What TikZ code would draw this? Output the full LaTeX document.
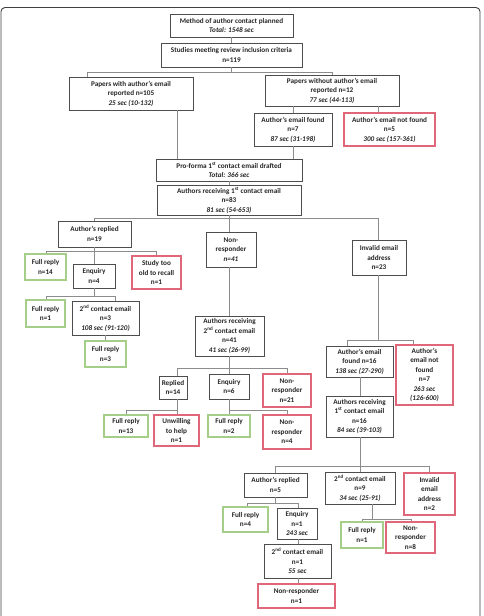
\documentclass[tikz,border=0pt]{standalone}
\usepackage{fontspec}
\setmainfont{Carlito}
\definecolor{boxc}{HTML}{4D4D4D}
\definecolor{connc}{HTML}{8C8C8C}
\definecolor{greenc}{HTML}{A5CF89}
\definecolor{redc}{HTML}{E0677A}
\definecolor{txtc}{HTML}{262626}
\definecolor{framec}{HTML}{404040}
\tikzset{
  bx/.style={draw=boxc, line width=0.8pt, fill=white, inner sep=0pt, align=center,
    text=txtc, font=\bfseries\fontsize{7.2}{9.5}\selectfont},
  gbx/.style={bx, draw=greenc, line width=1.1pt},
  rbx/.style={bx, draw=redc, line width=1.1pt},
  conn/.style={draw=connc, line width=0.7pt},
}
\begin{document}
\begin{tikzpicture}[x=1pt,y=-1pt]
\clip (0,0) rectangle (483,616);
\fill[white] (0,0) rectangle (483,616);
\draw[framec, line width=0.9pt, rounded corners=4pt] (1,640) -- (1,7.5) -- (480,7.5) -- (480,640);

% junction coordinates
\coordinate (j1L) at (87,72);   \coordinate (j1R) at (332,72);
\coordinate (j2L) at (94,218);  \coordinate (j2R) at (378,218);
\coordinate (j3L) at (46,251);  \coordinate (j3R) at (156,251);
\coordinate (j4L) at (46,296);  \coordinate (j4R) at (115,296);
\coordinate (j5L) at (177,368); \coordinate (j5R) at (287,368);
\coordinate (j6L) at (126,410); \coordinate (j6R) at (177,410);
\coordinate (j7L) at (229,410); \coordinate (j7R) at (287,410);
\coordinate (j8L) at (347,340); \coordinate (j8R) at (413,340);
\coordinate (j9L) at (275,466); \coordinate (j9R) at (429,466);
\coordinate (j10L) at (247,503); \coordinate (j10R) at (298,503);
\coordinate (j11L) at (362,519); \coordinate (j11R) at (411,519);
\coordinate (x177) at (177,0); \coordinate (x378) at (378,0);
\coordinate (x229) at (229,0); \coordinate (x360) at (360,0);
\coordinate (x372) at (372,0); \coordinate (x298) at (298,0);

% nodes
\node[bx, minimum width=123, minimum height=23] (method) at (231.5,25.5) {Method of author contact planned\\\textit{Total: 1548 sec}};
\node[bx, minimum width=141, minimum height=24] (studies) at (231.5,55) {Studies meeting review inclusion criteria\\n=119};
\node[bx, minimum width=124, minimum height=33] (pw) at (131,93.5) {Papers with author's email\\reported n=105\\\textit{25 sec (10-132)}};
\node[bx, minimum width=134, minimum height=31] (pwo) at (332,90.5) {Papers without author's email\\reported n=12\\\textit{77 sec (44-113)}};
\node[bx, minimum width=78, minimum height=33] (aef) at (293,129.5) {Author's email found\\n=7\\\textit{87 sec (31-198)}};
\node[rbx, minimum width=91, minimum height=33] (aenf) at (389.5,129.5) {Author's email not found\\n=5\\\textit{300 sec (157-361)}};
\node[bx, minimum width=146, minimum height=22] (proforma) at (229,170) {Pro-forma 1\textsuperscript{st} contact email drafted\\\textit{Total: 366 sec}};
\node[bx, minimum width=144, minimum height=30] (arc1) at (229,200) {Authors receiving 1\textsuperscript{st} contact email\\n=83\\\textit{81 sec (54-653)}};
\node[bx, minimum width=73, minimum height=26] (ar19) at (94.5,234) {Author's replied\\n=19};
\node[bx, minimum width=50, minimum height=35] (nr41) at (231,249.5) {Non-\\responder\\\textit{n=41}};
\node[bx, minimum width=54, minimum height=35] (inv23) at (379,257.5) {Invalid email\\address\\n=23};
\node[gbx, minimum width=41, minimum height=26] (fr14) at (45.5,267) {Full reply\\n=14};
\node[bx, minimum width=42, minimum height=24] (enq4) at (94,276) {Enquiry\\n=4};
\node[rbx, minimum width=49, minimum height=33] (old) at (156.5,272.5) {Study too\\old to recall\\n=1};
\node[gbx, minimum width=39, minimum height=27] (fr1a) at (45.5,313.5) {Full reply\\n=1};
\node[bx, minimum width=67, minimum height=34] (sce3) at (105.5,318) {2\textsuperscript{nd} contact email\\n=3\\\textit{108 sec (91-120)}};
\node[gbx, minimum width=41, minimum height=26] (fr3) at (105.5,354) {Full reply\\n=3};
\node[bx, minimum width=69, minimum height=40] (arc2) at (229.5,336) {Authors receiving\\2\textsuperscript{nd} contact email\\n=41\\\textit{41 sec (26-99)}};
\node[bx, minimum width=28, minimum height=23] (rep14) at (173,387.5) {Replied\\n=14};
\node[bx, minimum width=40, minimum height=25] (enq6) at (229,386.5) {Enquiry\\n=6};
\node[rbx, minimum width=48, minimum height=33] (nr21) at (287,390.5) {Non-\\responder\\n=21};
\node[gbx, minimum width=44, minimum height=22] (fr13) at (126,426) {Full reply\\n=13};
\node[rbx, minimum width=45, minimum height=31] (unw) at (176.5,430.5) {Unwilling\\to help\\n=1};
\node[gbx, minimum width=42, minimum height=22] (fr2) at (229,426) {Full reply\\n=2};
\node[rbx, minimum width=48, minimum height=34] (nr4) at (287,432) {Non-\\responder\\n=4};
\node[bx, minimum width=67, minimum height=31] (aef16) at (359.5,361.5) {Author's email\\found n=16\\\textit{138 sec (27-290)}};
\node[rbx, minimum width=57, minimum height=60] (aenf7) at (424.5,375) {Author's\\email not\\found\\n=7\\\textit{263 sec}\\\textit{(126-600)}};
\node[bx, minimum width=67, minimum height=41] (arc16) at (359.5,416.5) {Authors receiving\\1\textsuperscript{st} contact email\\n=16\\\textit{84 sec (39-103)}};
\node[bx, minimum width=63, minimum height=24] (ar5) at (275.5,485) {Author's replied\\n=5};
\node[bx, minimum width=70, minimum height=32] (sce9) at (360,488) {2\textsuperscript{nd} contact email\\n=9\\\textit{34 sec (25-91)}};
\node[rbx, minimum width=51, minimum height=42] (inv2) at (429.5,494) {Invalid\\email\\address\\n=2};
\node[gbx, minimum width=45, minimum height=25] (fr4) at (245.5,519.5) {Full reply\\n=4};
\node[bx, minimum width=40, minimum height=31] (enq1) at (297,523.5) {Enquiry\\n=1\\\textit{243 sec}};
\node[bx, minimum width=67, minimum height=34] (sce1) at (297.5,561) {2\textsuperscript{nd} contact email\\n=1\\\textit{55 sec}};
\node[rbx, minimum width=77, minimum height=24] (nr1) at (296.5,596) {Non-responder\\n=1};
\node[gbx, minimum width=42, minimum height=26] (fr1b) at (362,535) {Full reply\\n=1};
\node[rbx, minimum width=49, minimum height=31] (nr8) at (410.5,537.5) {Non-\\responder\\n=8};

% connectors
\draw[conn] (method.south) -- (studies.north);
\draw[conn] (studies.south) -- (studies.south |- j1L);
\draw[conn] (pw.north -| j1L) -- (j1L) -- (j1R) -- (pwo.north -| j1R);
\draw[conn] (pwo.south -| aef.north) -- (aef.north);
\draw[conn] (pwo.south -| x378) -- (aenf.north -| x378);
\draw[conn] (pw.south -| x177) -- (proforma.north -| x177);
\draw[conn] (aef.south) -- (proforma.north -| aef.south);
\draw[conn] (proforma.south) -- (arc1.north);
\draw[conn] (arc1.south) -- (nr41.north -| arc1.south);
\draw[conn] (ar19.north -| j2L) -- (j2L) -- (j2R) -- (inv23.north -| j2R);
\draw[conn] (ar19.south -| enq4.north) -- (enq4.north);
\draw[conn] (fr14.north -| j3L) -- (j3L) -- (j3R) -- (old.north -| j3R);
\draw[conn] (enq4.south) -- (enq4.south |- j4L);
\draw[conn] (fr1a.north -| j4L) -- (j4L) -- (j4R) -- (sce3.north -| j4R);
\draw[conn] (sce3.south) -- (fr3.north);
\draw[conn] (nr41.south -| x229) -- (arc2.north -| x229);
\draw[conn] (arc2.south -| x229) -- (enq6.north -| x229);
\draw[conn] (rep14.north -| j5L) -- (j5L) -- (j5R) -- (nr21.north);
\draw[conn] (rep14.south -| j6R) -- (unw.north -| j6R);
\draw[conn] (fr13.north -| j6L) -- (j6L) -- (j6R);
\draw[conn] (enq6.south -| x229) -- (fr2.north -| x229);
\draw[conn] (j7L) -- (j7R) -- (nr4.north);
\draw[conn] (inv23.south -| x378) -- (x378 |- j8L);
\draw[conn] (aef16.north -| j8L) -- (j8L) -- (j8R) -- (aenf7.north -| j8R);
\draw[conn] (aef16.south -| x360) -- (arc16.north -| x360);
\draw[conn] (arc16.south -| x360) -- (sce9.north -| x360);
\draw[conn] (ar5.north -| j9L) -- (j9L) -- (j9R) -- (inv2.north -| j9R);
\draw[conn] (ar5.south -| j9L) -- (j9L |- j10L);
\draw[conn] (fr4.north -| j10L) -- (j10L) -- (j10R) -- (enq1.north -| j10R);
\draw[conn] (enq1.south -| x298) -- (sce1.north -| x298);
\draw[conn] (sce1.south -| x298) -- (nr1.north -| x298);
\draw[conn] (sce9.south -| x372) -- (x372 |- j11L);
\draw[conn] (fr1b.north -| j11L) -- (j11L) -- (j11R) -- (nr8.north -| j11R);
\end{tikzpicture}
\end{document}
